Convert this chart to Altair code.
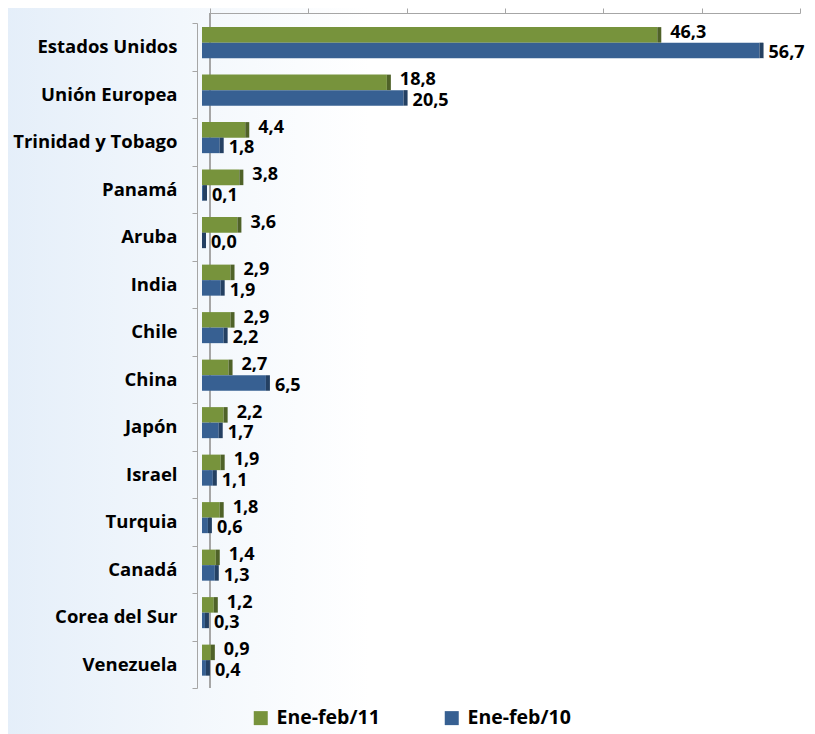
import altair as alt
import pandas as pd

countries = ["Estados Unidos", "Unión Europea", "Trinidad y Tobago", "Panamá", "Aruba",
             "India", "Chile", "China", "Japón", "Israel", "Turquia", "Canadá",
             "Corea del Sur", "Venezuela"]
v11 = [46.3, 18.8, 4.4, 3.8, 3.6, 2.9, 2.9, 2.7, 2.2, 1.9, 1.8, 1.4, 1.2, 0.9]
v10 = [56.7, 20.5, 1.8, 0.1, 0.0, 1.9, 2.2, 6.5, 1.7, 1.1, 0.6, 1.3, 0.3, 0.4]
series = ["Ene-feb/11", "Ene-feb/10"]
colors = ["#77933C", "#376092"]
side_colors = ["#4F6228", "#244062"]
ticks = [0, 10, 20, 30, 40, 50, 60]

rows = []
for c, a, b in zip(countries, v11, v10):
    rows.append({"country": c, "series": series[0], "v": a})
    rows.append({"country": c, "series": series[1], "v": b})
df = pd.DataFrame(rows)

W, H = 590, 665
FONT = "Open Sans"
GRAY = "#a6a6a6"

base = alt.Chart(df).transform_calculate(
    lab="replace(format(datum.v, '.1f'), '.', ',')"
)

def xs():
    return alt.Scale(domain=[0, 60], nice=False)

yscale = alt.Scale(paddingInner=0, paddingOuter=0)
yenc = alt.Y("country:N", sort=countries, scale=yscale,
             axis=alt.Axis(title=None, labelFont=FONT, labelFontWeight="bold",
                           labelFontSize=18.5, labelColor="#000000", labelPadding=15,
                           tickBand="extent", tickSize=5, tickColor=GRAY,
                           domainColor=GRAY, domainWidth=1, offset=5, zindex=1))
yoff = alt.YOffset("series:N", sort=series,
                   scale=alt.Scale(paddingInner=0, paddingOuter=0.53, align=0.25))
ysimple = alt.Y("country:N", sort=countries)

color = alt.Color("series:N", sort=series,
                  scale=alt.Scale(domain=series, range=colors),
                  legend=alt.Legend(title=None, orient="none", legendX=49, legendY=685,
                                    direction="horizontal", symbolType="square",
                                    symbolSize=196, symbolStrokeWidth=0,
                                    labelFont=FONT, labelFontWeight="bold",
                                    labelFontSize=19.5, labelColor="#000000",
                                    labelOffset=6, columnPadding=62))

bg = alt.Chart(pd.DataFrame({"a": [0]})).mark_rect(
    color=alt.Gradient(gradient="linear",
                       stops=[alt.GradientStop(color="#e4eef9", offset=0),
                              alt.GradientStop(color="#f2f7fc", offset=0.22),
                              alt.GradientStop(color="#ffffff", offset=0.45)],
                       x1=0, x2=1, y1=0, y2=0)
).encode(x=alt.value(-202), x2=alt.value(W + 30), y=alt.value(-25), y2=alt.value(H + 50))

# back wall line and top axis (3D back plane, shifted a few pixels right)
back = alt.Chart(pd.DataFrame({"z": [0]})).mark_rule(color=GRAY, strokeWidth=2).encode(
    x=alt.X("z:Q", scale=alt.Scale(domain=[0, 60], nice=False, range=[8, W + 8]),
            axis=alt.Axis(orient="top", title=None, labels=False, values=ticks,
                          tickSize=5, tickColor=GRAY, domainColor=GRAY, grid=False,
                          offset=10, zindex=1)),
    y=alt.value(-10), y2=alt.value(H)
)

bars = base.mark_bar().encode(
    y=yenc, yOffset=yoff,
    x=alt.X("v:Q", scale=xs(), axis=None),
    color=color)

side = base.mark_bar(x2Offset=4).encode(
    y=ysimple, yOffset=yoff,
    x=alt.X("v:Q", scale=xs(), axis=None), x2="v:Q",
    color=alt.Color("series:N", sort=series,
                    scale=alt.Scale(domain=series, range=side_colors), legend=None)
)

t11 = base.transform_filter(alt.datum.series == series[0]).mark_text(
    align="left", baseline="middle", dx=13, dy=-2, font=FONT, fontWeight="bold",
    fontSize=18, color="#000000"
).encode(y=ysimple, yOffset=yoff, x=alt.X("v:Q", scale=xs(), axis=None), text="lab:N")

t10 = base.transform_filter(alt.datum.series == series[1]).mark_text(
    align="left", baseline="middle", dx=9, dy=3, font=FONT, fontWeight="bold",
    fontSize=18, color="#000000"
).encode(y=ysimple, yOffset=yoff, x=alt.X("v:Q", scale=xs(), axis=None), text="lab:N")

chart = alt.layer(bg, back, bars, side, t11, t10).resolve_scale(
    color="independent", x="independent"
).properties(
    width=W, height=H,
    autosize=alt.AutoSizeParams(type="none"),
    padding={"left": 194, "top": 15, "right": 15, "bottom": 46},
    background="#ffffff"
).configure_view(stroke=None)

chart.save("out.html", embed_options={"renderer": "svg", "actions": False})
